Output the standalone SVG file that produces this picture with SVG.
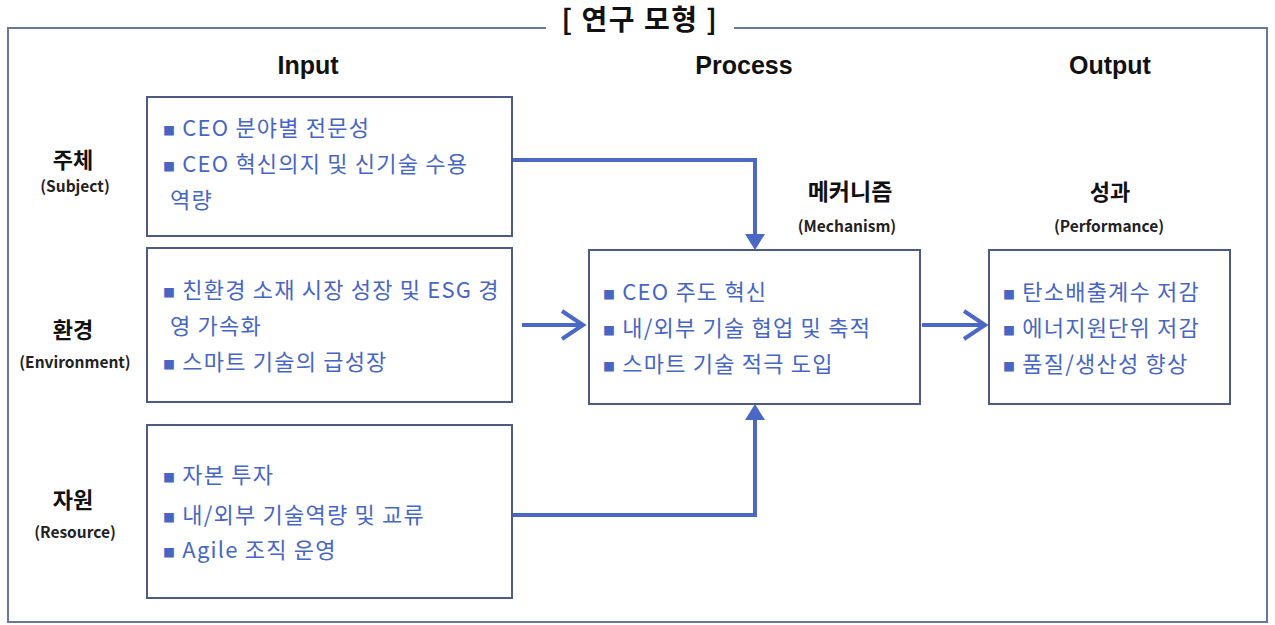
<svg xmlns="http://www.w3.org/2000/svg" width="1275" height="625" viewBox="0 0 1275 625">
<style>
.frame{fill:none;stroke:#6877a0;stroke-width:2}
.box{fill:#fff;stroke:#4d5a86;stroke-width:2}
.t{font-family:"Noto Sans CJK KR","Noto Sans",sans-serif;fill:#4766c4;font-size:22px;letter-spacing:1.2px}
.b{font-size:12px}
.hd{font-family:"Liberation Sans","Noto Sans CJK KR",sans-serif;font-weight:bold;font-size:25px;fill:#111;text-anchor:middle}
.lab{font-family:"Noto Sans CJK KR",sans-serif;font-weight:bold;font-size:22px;fill:#111;text-anchor:middle}
.sub{font-family:"Noto Sans CJK KR",sans-serif;font-weight:bold;font-size:15.5px;fill:#222;text-anchor:middle}
.con{fill:none;stroke:#4a68c4;stroke-width:4}
.ah{fill:#4a68c4}
</style>
<rect width="1275" height="625" fill="#fff"/>
<g id="frame">
<path class="frame" d="M546 28 H8 V622 H1267 V28 H734"/>
<text x="640" y="30" class="lab" style="font-size:28px;letter-spacing:1.5px">[ 연구 모형 ]</text>
</g>
<g id="headers">
<text x="308" y="74" class="hd">Input</text>
<text x="744" y="74" class="hd">Process</text>
<text x="1110" y="74" class="hd">Output</text>
</g>
<g id="label-subject">
<text x="73" y="168" class="lab">주체</text>
<text x="75" y="192" class="sub">(Subject)</text>
</g>
<g id="label-environment">
<text x="73" y="338" class="lab">환경</text>
<text x="75" y="368" class="sub">(Environment)</text>
</g>
<g id="label-resource">
<text x="73" y="508" class="lab">자원</text>
<text x="75" y="538" class="sub">(Resource)</text>
</g>
<g id="label-mechanism">
<text x="850" y="200" class="lab" style="font-size:23px">메커니즘</text>
<text x="847" y="232" class="sub">(Mechanism)</text>
</g>
<g id="label-performance">
<text x="1110" y="200" class="lab">성과</text>
<text x="1109" y="232" class="sub">(Performance)</text>
</g>
<g id="connectors">
<path class="con" d="M512 160 H755 V238"/>
<polygon class="ah" points="745,234 765,234 755,250"/>
<path class="con" d="M512 515 H755 V416"/>
<polygon class="ah" points="745,420 765,420 755,404"/>
<path class="con" d="M522 325 H580"/>
<path class="con" d="M562 311 L583 325 L562 339"/>
<path class="con" d="M922 325 H982"/>
<path class="con" d="M964 311 L985 325 L964 339"/>
</g>
<g id="node-subject">
<rect class="box" x="147" y="97" width="365" height="139"/>
<text class="t" x="163" y="136"><tspan class="b">■</tspan> CEO 분야별 전문성</text>
<text class="t" x="163" y="172"><tspan class="b">■</tspan> CEO 혁신의지 및 신기술 수용</text>
<text class="t" x="170" y="208">역량</text>
</g>
<g id="node-environment">
<rect class="box" x="147" y="248" width="365" height="154"/>
<text class="t" x="163" y="298"><tspan class="b">■</tspan> 친환경 소재 시장 성장 및 ESG 경</text>
<text class="t" x="170" y="334">영 가속화</text>
<text class="t" x="163" y="370"><tspan class="b">■</tspan> 스마트 기술의 급성장</text>
</g>
<g id="node-resource">
<rect class="box" x="147" y="425" width="365" height="173"/>
<text class="t" x="163" y="483"><tspan class="b">■</tspan> 자본 투자</text>
<text class="t" x="163" y="523"><tspan class="b">■</tspan> 내/외부 기술역량 및 교류</text>
<text class="t" x="163" y="558"><tspan class="b">■</tspan> Agile 조직 운영</text>
</g>
<g id="node-mechanism">
<rect class="box" x="589" y="250" width="331" height="154"/>
<text class="t" x="603" y="300"><tspan class="b">■</tspan> CEO 주도 혁신</text>
<text class="t" x="603" y="336"><tspan class="b">■</tspan> 내/외부 기술 협업 및 축적</text>
<text class="t" x="603" y="372"><tspan class="b">■</tspan> 스마트 기술 적극 도입</text>
</g>
<g id="node-performance">
<rect class="box" x="989" y="250" width="241" height="154"/>
<text class="t" x="1003" y="300"><tspan class="b">■</tspan> 탄소배출계수 저감</text>
<text class="t" x="1003" y="336"><tspan class="b">■</tspan> 에너지원단위 저감</text>
<text class="t" x="1003" y="372"><tspan class="b">■</tspan> 품질/생산성 향상</text>
</g>
</svg>
